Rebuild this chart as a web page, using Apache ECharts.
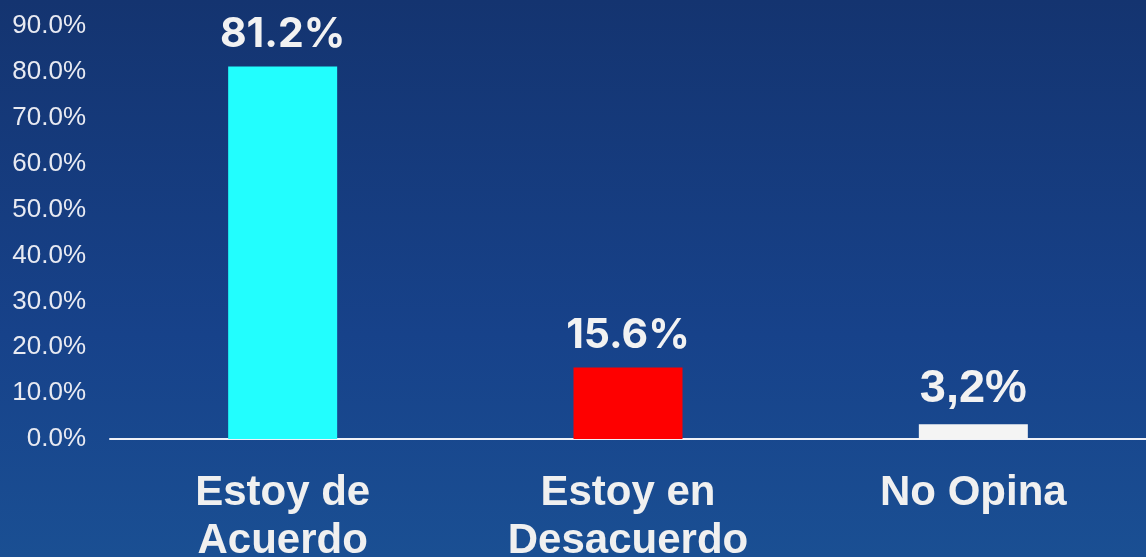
<!DOCTYPE html>
<html>
<head>
<meta charset="utf-8">
<script src="https://cdn.jsdelivr.net/npm/echarts@6/dist/echarts.min.js"></script>
<style>
html,body{margin:0;padding:0;}
#chart{width:1146px;height:557px;}
</style>
</head>
<body>
<div id="chart"></div>
<script>
"use strict";
// datos de la encuesta
var categorias = ['Estoy de\nAcuerdo', 'Estoy en\nDesacuerdo', 'No Opina'];
var valores = [81.2, 15.6, 3.2];
var etiquetas = ['81.2%', '15.6%', '3,2%'];
var colores = ['#22fefe', '#fe0000', '#f4f4f4'];

var myChart = echarts.init(document.getElementById('chart'));
var option = {
	backgroundColor: {
		type: 'linear', x: 0, y: 0, x2: 0, y2: 1,
		colorStops: [
			{ offset: 0, color: '#143470' },
			{ offset: 0.6, color: '#17428a' },
			{ offset: 1, color: '#1a4f93' }
		]
	},
	grid: { left: 110, right: 0, top: 26, bottom: 118, outerBoundsMode: 'none', containLabel: false },
	xAxis: {
		type: 'category',
		data: categorias,
		axisLine: { lineStyle: { color: '#f0f2f8', width: 2 } },
		axisTick: { show: false },
		axisLabel: {
			color: '#f0f0f0',
			fontFamily: 'Arial',
			fontWeight: 'bold',
			fontSize: 42,
			lineHeight: 48,
			margin: 30
		}
	},
	yAxis: {
		type: 'value',
		min: 0,
		max: 90,
		interval: 10,
		splitLine: { show: false },
		axisLine: { show: false },
		axisTick: { show: false },
		axisLabel: {
			color: '#e8eaf2',
			fontFamily: 'Arial',
			fontSize: 26,
			margin: 24,
			formatter: function (v) { return v.toFixed(1) + '%'; }
		}
	},
	series: [{
		type: 'bar',
		barWidth: 109,
		data: valores.map(function (v, i) {
			return {
				value: v,
				itemStyle: { color: colores[i] },
				label: i === 2 ? { fontFamily: 'Arial', fontSize: 47, distance: 12 } : {}
			};
		}),
		label: {
			show: true,
			position: 'top',
			distance: 11,
			color: '#f2f2f2',
			fontFamily: 'Inter',
			fontWeight: 'bold',
			fontSize: 41,
			formatter: function (p) { return etiquetas[p.dataIndex]; }
		}
	}]
};
myChart.setOption(option);
</script>
</body>
</html>
